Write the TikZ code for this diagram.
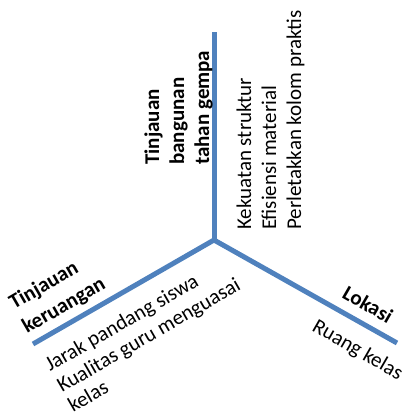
\documentclass[tikz,border=0pt]{standalone}
\usepackage{fontspec}
\setmainfont{Carlito}
\usepackage{tikz}
\definecolor{garisbiru}{RGB}{79,129,189}
\tikzstyle{garis} = [line width=5pt, color=garisbiru]
\tikzstyle{judul} = [inner sep=0pt, font=\fontsize{21}{25}\selectfont\bfseries]
\tikzstyle{isi} = [inner sep=0pt, font=\fontsize{21}{25}\selectfont]

\begin{document}
\begin{tikzpicture}[x=1pt, y=-1pt]
\useasboundingbox (0,0) rectangle (404,419);
% tiga garis utama
\coordinate (pusat) at (214,240);
\coordinate (atas) at (214,32);
\coordinate (kiri) at (33,344);
\coordinate (kanan) at (397,343);
\draw[garis] (pusat) -- (atas);
\draw[garis] (pusat) -- (kiri);
\draw[garis] (pusat) -- (kanan);

% cabang atas
\node[judul, rotate=90, anchor=base west] (tj1) at (159,165) {Tinjauan};
\node[judul, rotate=90, anchor=base west] (tj2) at (184,165) {bangunan};
\node[judul, rotate=90, anchor=base west] (tj3) at (209,165) {tahan gempa};
\node[isi, rotate=90, anchor=base west] (ks) at (251,230) {Kekuatan struktur};
\node[isi, rotate=90, anchor=base west] (em) at (276,230) {Efisiensi material};
\node[isi, rotate=90, anchor=base west] (pk) at (301,230) {Perletakkan kolom praktis};

% cabang kiri
\node[judul, rotate=30, anchor=base west] (tr1) at (14,310) {Tinjauan};
\node[judul, rotate=30, anchor=base west] (tr2) at (27,334) {keruangan};
\node[isi, rotate=30, anchor=base west] (jp) at (50,372) {Jarak pandang siswa};
\node[isi, rotate=30, anchor=base west] (kg) at (62,393) {Kualitas guru menguasai};
\node[isi, rotate=30, anchor=base west] (kl) at (73,413) {kelas};

% cabang kanan
\node[judul, rotate=-30, anchor=base west] (lok) at (341,297) {Lokasi};
\node[isi, rotate=-30, anchor=base west] (rk) at (311,330) {Ruang kelas};
\end{tikzpicture}
\end{document}
